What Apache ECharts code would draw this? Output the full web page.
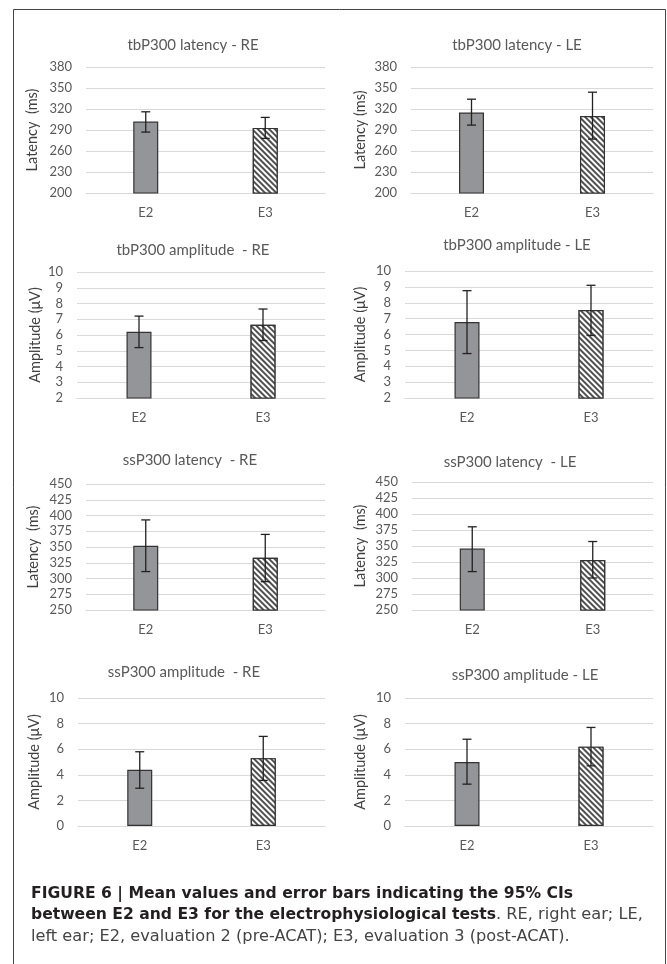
<!DOCTYPE html>
<html><head><meta charset="utf-8">
<script src="https://cdn.jsdelivr.net/npm/echarts@6/dist/echarts.min.js"></script>
<style>html,body{margin:0;padding:0;background:#fff}#c{width:667px;height:964px}</style>
</head><body><div id="c"></div>
<script>
// ---- data ----
const categories = ['E2', 'E3'];
const panelTitles = ['tbP300 latency - RE', 'tbP300 latency - LE', 'tbP300 amplitude  - RE', 'tbP300 amplitude - LE',
  'ssP300 latency  - RE', 'ssP300 latency  - LE', 'ssP300 amplitude  - RE', 'ssP300 amplitude - LE'];
const axisNames = ['Latency  (ms)', 'Latency (ms)', 'Amplitude (μV)', 'Amplitude (μV)',
  'Latency  (ms)', 'Latency  (ms)', 'Amplitude (μV)', 'Amplitude (μV)'];
const axisMin = [200, 200, 2, 2, 250, 250, 0, 0];
const axisMax = [380, 380, 10, 10, 450, 450, 10, 10];
const axisStep = [30, 30, 1, 1, 25, 25, 2, 2];

const tbLatRE_mean = [302, 293], tbLatRE_low = [287, 278], tbLatRE_high = [316, 308];
const tbLatLE_mean = [315, 310], tbLatLE_low = [297, 277], tbLatLE_high = [334, 344];
const tbAmpRE_mean = [6.2, 6.65], tbAmpRE_low = [5.2, 5.65], tbAmpRE_high = [7.2, 7.65];
const tbAmpLE_mean = [6.78, 7.54], tbAmpLE_low = [4.8, 5.94], tbAmpLE_high = [8.76, 9.1];
const ssLatRE_mean = [352, 333], ssLatRE_low = [311, 295], ssLatRE_high = [393, 370];
const ssLatLE_mean = [346, 328], ssLatLE_low = [310, 300], ssLatLE_high = [380, 357];
const ssAmpRE_mean = [4.4, 5.3], ssAmpRE_low = [2.95, 3.56], ssAmpRE_high = [5.8, 7.0];
const ssAmpLE_mean = [5.0, 6.2], ssAmpLE_low = [3.27, 4.7], ssAmpLE_high = [6.78, 7.7];

const captionBold1 = 'FIGURE 6 | Mean values and error bars indicating the 95% CIs';
const captionBold2 = 'between E2 and E3 for the electrophysiological tests';
const captionRest2 = '. RE, right ear; LE,';
const captionRest3 = 'left ear; E2, evaluation 2 (pre-ACAT); E3, evaluation 3 (post-ACAT).';

// ---- layout ----
const panels = [
  [tbLatRE_mean, tbLatRE_low, tbLatRE_high],
  [tbLatLE_mean, tbLatLE_low, tbLatLE_high],
  [tbAmpRE_mean, tbAmpRE_low, tbAmpRE_high],
  [tbAmpLE_mean, tbAmpLE_low, tbAmpLE_high],
  [ssLatRE_mean, ssLatRE_low, ssLatRE_high],
  [ssLatLE_mean, ssLatLE_low, ssLatLE_high],
  [ssAmpRE_mean, ssAmpRE_low, ssAmpRE_high],
  [ssAmpLE_mean, ssAmpLE_low, ssAmpLE_high]
];
// [left, top, width, height]
const gridBoxes = [
  [86, 67, 239, 126], [411, 67, 242, 126],
  [77, 272, 248, 126], [405, 271, 248, 127],
  [86, 484, 239, 126], [412, 482, 241, 128],
  [78, 698, 247, 128], [405, 698, 248, 128]
];
const titlePos = [[188, 42], [512, 42], [188, 247], [512, 242], [185, 457], [505, 459], [179, 669], [520, 672]];
const nameGaps = [46, 43, 34, 37, 45, 44, 36, 37];

const FONT = 'Lato, "Open Sans", sans-serif';
const CAPFONT = '"DejaVu Sans", "Liberation Sans", sans-serif';
const TXT = '#595959';
const GRIDC = '#d9d9d9';

const grids = [], xAxes = [], yAxes = [], series = [], titles = [];

function errRender(params, api) {
  const x = api.value(0), lo = api.value(1), hi = api.value(2);
  const pLo = api.coord([x, lo]), pHi = api.coord([x, hi]);
  const cw = 4.5;
  const style = { stroke: '#222', lineWidth: 1.3 };
  return {
    type: 'group', children: [
      { type: 'line', shape: { x1: pLo[0], y1: pLo[1], x2: pHi[0], y2: pHi[1] }, style },
      { type: 'line', shape: { x1: pLo[0] - cw, y1: pLo[1], x2: pLo[0] + cw, y2: pLo[1] }, style },
      { type: 'line', shape: { x1: pHi[0] - cw, y1: pHi[1], x2: pHi[0] + cw, y2: pHi[1] }, style }
    ]
  };
}

panels.forEach((p, i) => {
  const [mean, low, high] = p;
  const b = gridBoxes[i];
  grids.push({ left: b[0], top: b[1], width: b[2], height: b[3], containLabel: false });
  xAxes.push({
    type: 'category', gridIndex: i, data: categories,
    axisTick: { show: false },
    axisLine: { lineStyle: { color: GRIDC, width: 1 } },
    axisLabel: { color: TXT, fontSize: 13, fontFamily: FONT, margin: 13 }
  });
  yAxes.push({
    type: 'value', gridIndex: i, min: axisMin[i], max: axisMax[i], interval: axisStep[i],
    name: axisNames[i], nameLocation: 'middle', nameGap: nameGaps[i],
    nameTextStyle: { color: '#404040', fontSize: 14.5, fontFamily: FONT },
    axisLine: { show: false }, axisTick: { show: false },
    axisLabel: { color: TXT, fontSize: 13, fontFamily: FONT, margin: 14 },
    splitLine: { lineStyle: { color: GRIDC, width: 1 } }
  });
  series.push({
    type: 'bar', xAxisIndex: i, yAxisIndex: i, barWidth: 25,
    data: mean.map((v, k) => ({
      value: v,
      itemStyle: k === 0
        ? { color: '#949598', borderColor: '#333', borderWidth: 1.2 }
        : {
          color: '#ffffff', borderColor: '#333', borderWidth: 1.2,
          decal: {
            symbol: 'rect', symbolSize: 1, dashArrayX: [1, 0], dashArrayY: [2, 2],
            rotation: Math.PI / 4, color: '#505050', backgroundColor: '#ffffff'
          }
        }
    })),
    silent: true, animation: false
  });
  series.push({
    type: 'custom', xAxisIndex: i, yAxisIndex: i, z: 5,
    renderItem: errRender,
    encode: { x: 0, y: [1, 2] },
    data: low.map((v, k) => [k, v, high[k]]),
    silent: true, animation: false
  });
  titles.push({
    text: panelTitles[i], left: titlePos[i][0], top: titlePos[i][1] - 9, textAlign: 'center',
    textStyle: { color: TXT, fontSize: 15, fontWeight: 'normal', fontFamily: FONT }
  });
});

titles.push({
  left: 26, top: 878, padding: 5,
  text: '{b|' + captionBold1 + '}\n{b|' + captionBold2 + '}{r|' + captionRest2 + '}\n{r|' + captionRest3 + '}',
  textStyle: {
    rich: {
      b: { fontFamily: CAPFONT, fontWeight: 'bold', fontSize: 15.6, color: '#231f20', lineHeight: 21.5 },
      r: { fontFamily: CAPFONT, fontWeight: 'normal', fontSize: 16.2, color: '#444', lineHeight: 21.5 }
    }
  }
});

const chart = echarts.init(document.getElementById('c'), null, { renderer: 'canvas' });
chart.setOption({
  backgroundColor: '#fff',
  animation: false,
  title: titles,
  grid: grids, xAxis: xAxes, yAxis: yAxes, series: series,
  graphic: [{
    type: 'rect', shape: { x: 13.5, y: 9.5, width: 652, height: 1000 },
    style: { fill: null, stroke: '#444', lineWidth: 1 }, silent: true, z: -1
  }]
});
</script></body></html>
